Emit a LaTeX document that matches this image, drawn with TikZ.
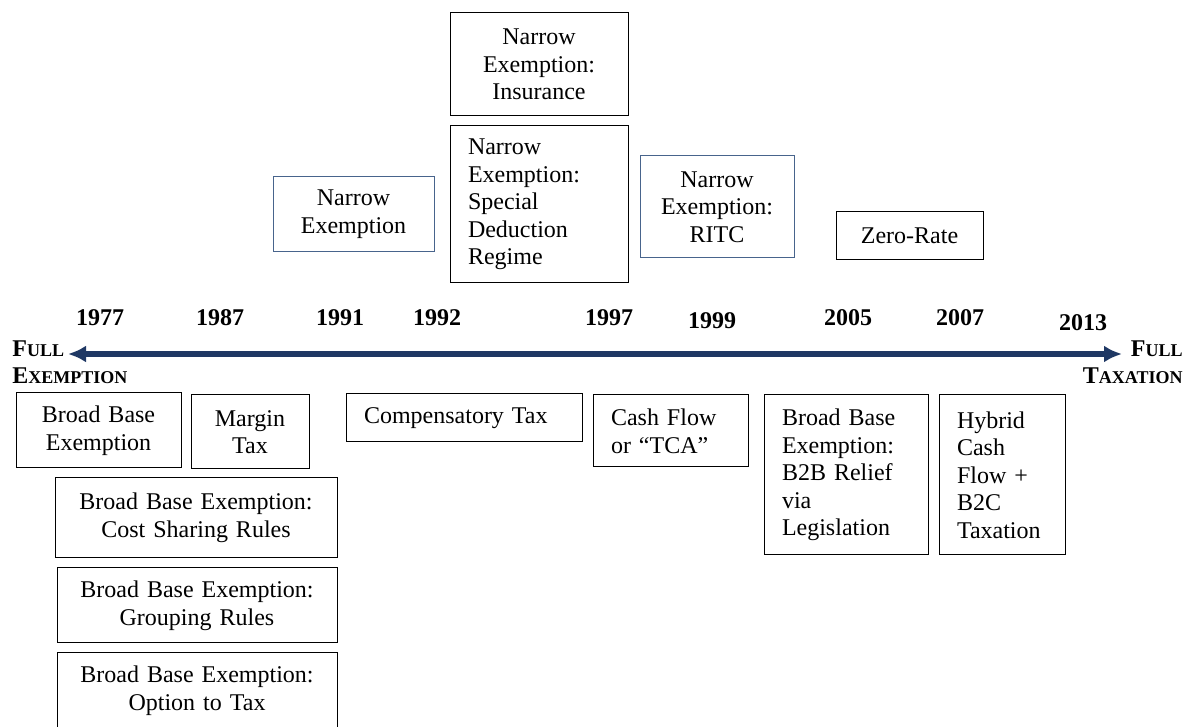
\documentclass[tikz,border=0pt]{standalone}
\usepackage{fontspec}
\setmainfont{Liberation Serif}
\usepackage{xcolor}
\usetikzlibrary{arrows.meta}
\definecolor{navy}{RGB}{31,56,100}
\definecolor{boxblue}{RGB}{72,100,140}
\tikzset{
  box/.style={draw=black, line width=0.5pt, inner xsep=9pt, inner ysep=0pt,
    font=\fontsize{12}{13.8}\selectfont},
  bluebox/.style={box, draw=boxblue},
  year/.style={font=\fontsize{12}{13.8}\selectfont\bfseries},
  ends/.style={font=\fontsize{12}{13.5}\selectfont\bfseries, inner sep=0pt}
}

\begin{document}
\begin{tikzpicture}[x=0.5pt,y=-0.5pt]
\useasboundingbox (0,0) rectangle (1191,727);
\coordinate (left) at (68,354);
\coordinate (right) at (1122,354);
\draw[navy, line width=2.8pt, {Latex[length=9pt,width=8.5pt]}-{Latex[length=9pt,width=8.5pt]}] (left) -- (right); % the time axis
\node[ends, anchor=west, align=left] (fullex) at (12,362) {F{\fontsize{9}{10}\selectfont ULL}\\E{\fontsize{9}{10}\selectfont XEMPTION}};
\node[ends, anchor=east, align=right] (fulltax) at (1183,362) {F{\fontsize{9}{10}\selectfont ULL}\\T{\fontsize{9}{10}\selectfont AXATION}};
% years above the axis
\node[year] (y1977) at (100,318) {1977};
\node[year] (y1987) at (220,318) {1987};
\node[year] (y1991) at (340,318) {1991};
\node[year] (y1992) at (437,318) {1992};
\node[year] (y1997) at (609,318) {1997};
\node[year] (y1999) at (712,321) {1999};
\node[year] (y2005) at (848,318) {2005};
\node[year] (y2007) at (960,318) {2007};
\node[year] (y2013) at (1083,323) {2013};
% boxes above the axis
\node[box, text width=71pt, minimum height=51.5pt, align=center] (insurance) at (539,64.5) {Narrow\\Exemption:\\Insurance};
\node[box, text width=71pt, minimum height=78.5pt, align=left] (special) at (539,204.5) {Narrow\\Exemption:\\Special\\Deduction\\Regime};
\node[bluebox, text width=62.5pt, minimum height=37.5pt, align=center] (narrow) at (353.5,214.5) {Narrow\\Exemption};
\node[bluebox, text width=59pt, minimum height=51pt, align=center] (ritc) at (717,207) {Narrow\\Exemption:\\RITC};
\node[box, text width=55.5pt, minimum height=24pt, align=center] (zerorate) at (909.5,236) {Zero-Rate};
% boxes below the axis
\node[box, text width=64.5pt, minimum height=37.5pt, align=center] (bbe) at (98.5,430.5) {Broad Base\\Exemption};
\node[box, text width=41pt, minimum height=37pt, align=center] (margin) at (250,432) {Margin\\Tax};
\node[box, text width=100pt, minimum height=24pt, align=left] (comp) at (464,418) {Compensatory Tax};
\node[box, text width=59.5pt, minimum height=36pt, align=left] (cashflow) at (670.5,431) {Cash Flow\\or ``TCA''};
\node[box, text width=64pt, minimum height=80pt, align=left] (btob) at (846,475) {Broad Base\\Exemption:\\B2B Relief\\via\\Legislation};
\node[box, text width=45pt, minimum height=80pt, align=left] (hybrid) at (1002,475) {Hybrid\\Cash\\Flow +\\B2C\\Taxation};
\node[box, text width=123pt, minimum height=40pt, align=center] (costshare) at (196,518) {Broad Base Exemption:\\Cost Sharing Rules};
\node[box, text width=122pt, minimum height=37.5pt, align=center] (grouping) at (197,605.5) {Broad Base Exemption:\\Grouping Rules};
\node[box, text width=122pt, minimum height=38pt, align=center] (option) at (197,691) {Broad Base Exemption:\\Option to Tax};
\end{tikzpicture}
\end{document}
